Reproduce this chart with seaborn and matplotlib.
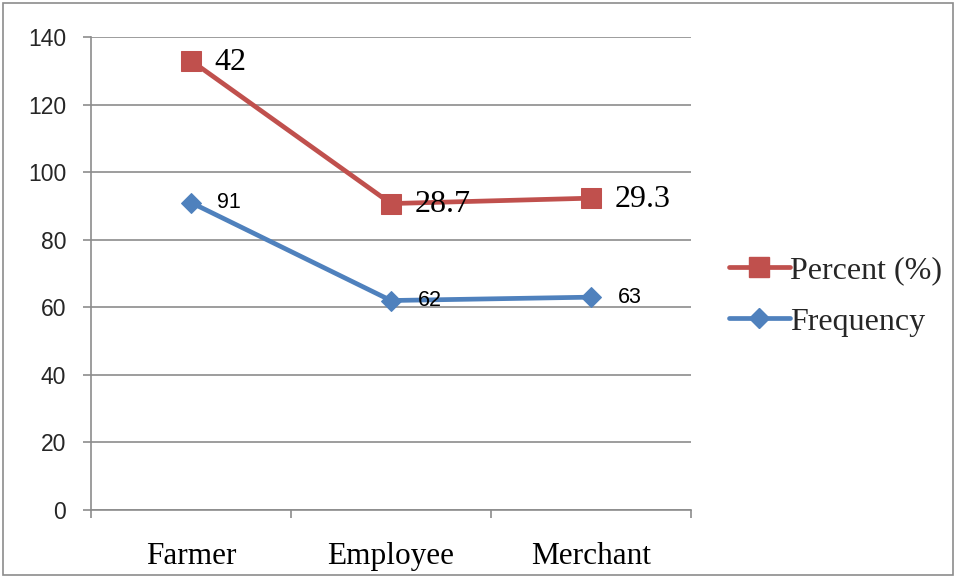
import matplotlib
matplotlib.use("Agg")
import matplotlib.pyplot as plt
from matplotlib.lines import Line2D
from matplotlib.patches import Rectangle
import seaborn as sns
import pandas as pd

occupations = ["Farmer", "Employee", "Merchant"]
frequency = [91, 62, 63]
percent = [42, 28.7, 29.3]
y_ticks = [0, 20, 40, 60, 80, 100, 120, 140]

RED = "#C0504D"
BLUE = "#4F81BD"
GRID = "#8C8C8C"

sns.set_theme(style="white")
plt.rcParams["font.family"] = ["Liberation Sans", "DejaVu Sans"]

# stacked line layout: the percent series sits on top of the frequency series
stacked_percent = [f + p for f, p in zip(frequency, percent)]
df = pd.DataFrame({
    "pos": list(range(len(occupations))) * 2,
    "value": frequency + stacked_percent,
    "series": ["Frequency"] * 3 + ["Percent (%)"] * 3,
})

fig = plt.figure(figsize=(9.56, 5.77), dpi=100)
ax = fig.add_axes([91 / 956, 1 - 510 / 577, 600 / 956, 473 / 577])

LW = 3.4
for name, color, marker, ms in [("Frequency", BLUE, "D", 10.5),
                                ("Percent (%)", RED, "s", 14)]:
    sub = df[df["series"] == name]
    sns.lineplot(data=sub, x="pos", y="value", ax=ax, color=color,
                 linewidth=LW, marker=marker, markersize=ms,
                 markeredgecolor=color, legend=False, zorder=3)

# data labels
for i, (f, p, sp) in enumerate(zip(frequency, percent, stacked_percent)):
    ax.annotate(f"{f:g}", (i, f), xytext=(19, 0), textcoords="offset points",
                va="center", ha="left", fontsize=15.5, color="black",
                family=["Liberation Sans", "DejaVu Sans"], zorder=4)
    ax.annotate(f"{p:g}", (i, sp), xytext=(17, -1), textcoords="offset points",
                va="center", ha="left", fontsize=23, color="black",
                family=["Liberation Serif", "DejaVu Serif"], zorder=4)

ax.set_xlim(-0.5, len(occupations) - 0.5)
ax.set_ylim(0, 140)
ax.set_yticks(y_ticks)
ax.set_yticklabels([str(t) for t in y_ticks], fontsize=16.5)
ax.set_xticks(range(len(occupations)))
ax.set_xticklabels(occupations, fontsize=22.5, family=["Liberation Serif", "DejaVu Serif"])
ax.set_xticks([-0.5, 0.5, 1.5, 2.5], minor=True)
ax.tick_params(axis="x", which="major", length=0, pad=23, colors="black")
ax.tick_params(axis="x", which="minor", length=6, width=1.2, color=GRID, direction="out", bottom=True)
ax.tick_params(axis="y", which="major", length=6, width=1.2, color=GRID, direction="out", pad=12, left=True)
ax.set_xlabel("")
ax.set_ylabel("")

ax.grid(axis="y", color=GRID, linewidth=1.2, zorder=0)
ax.grid(axis="x", visible=False)
for side in ["top", "right"]:
    ax.spines[side].set_visible(False)
for side in ["left", "bottom"]:
    ax.spines[side].set_color(GRID)
    ax.spines[side].set_linewidth(1.2)

handles = [
    Line2D([], [], color=RED, linewidth=LW, marker="s", markersize=14, markeredgecolor=RED),
    Line2D([], [], color=BLUE, linewidth=LW, marker="D", markersize=10.5, markeredgecolor=BLUE),
]
fig.legend(handles, ["Percent (%)", "Frequency"], loc="center left",
           bbox_to_anchor=(729 / 956, 1 - 296 / 577), frameon=False,
           prop={"family": ["Liberation Serif", "DejaVu Serif"], "size": 23},
           handlelength=1.9, handletextpad=0.0, labelspacing=0.7,
           borderaxespad=0, borderpad=0)

# outer chart frame
fig.patches.append(Rectangle((3 / 956, 2 / 577), 950 / 956, 572 / 577,
                             transform=fig.transFigure, fill=False,
                             edgecolor=GRID, linewidth=1.2))

fig.savefig("out.png", dpi=100, facecolor="white")
